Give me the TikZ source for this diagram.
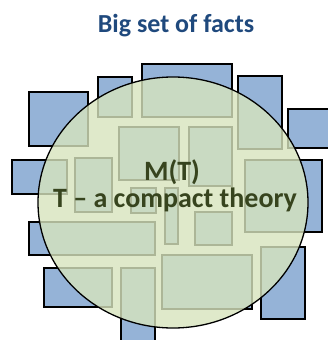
\documentclass[tikz,border=0pt]{standalone}
\usepackage{fontspec}
\setmainfont{Carlito}
\usetikzlibrary{positioning}
\definecolor{factblue}{RGB}{149,179,215}
\definecolor{titleblue}{RGB}{31,73,125}
\definecolor{olivefill}{RGB}{215,228,189}
\definecolor{olivetext}{RGB}{55,68,30}

\begin{document}
\begin{tikzpicture}[x=1pt, y=-1pt,
  fact/.style={draw=black, fill=factblue, line width=1.2pt},
  modelset/.style={draw=black, fill=olivefill, fill opacity=0.8, line width=1.3pt},
  bigtext/.style={font=\fontsize{26}{30}\selectfont\bfseries, anchor=base},
  modeltext/.style={font=\fontsize{28}{30}\selectfont\bfseries, anchor=base, olivetext}]
  \useasboundingbox (0,0) rectangle (327,340);
  % the facts
  \foreach \xa/\ya/\xb/\yb in {29/92/88/146, 98/77/132/117, 142/64/232/117,
      238/76/282/149, 288/109/332/148, 12/160/67/194, 245/160/322/232,
      261/247/305/319, 29/222/155/255, 44/268/112/307, 121/268/155/345,
      162/255/252/309, 119/127/179/180, 189/127/232/186, 75/158/112/212,
      131/188/156/213, 165/188/178/244, 195/212/232/245}
    \draw[fact] (\xa,\ya) rectangle (\xb,\yb);
  % models of T
  \draw[modelset] (173,202.5) ellipse [x radius=135, y radius=125.5];
  \node[bigtext, titleblue] (title) at (176,32) {Big set of facts};
  \node[modeltext] (model) at (172,180) {M(T)};
  \node[modeltext] (theory) at (175,207) {T -- a compact theory};
\end{tikzpicture}
\end{document}
